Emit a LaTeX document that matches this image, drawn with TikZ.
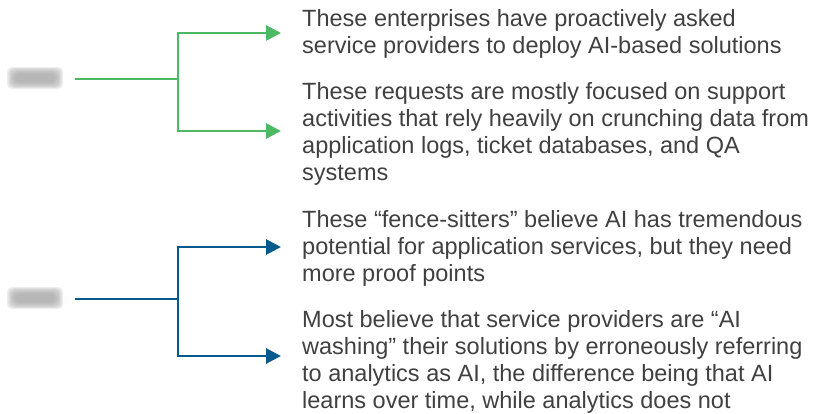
\documentclass[tikz,border=0pt]{standalone}
\usepackage{fontspec}
\setmainfont{Liberation Sans}
\usetikzlibrary{arrows.meta,calc}
\definecolor{forkgreen}{HTML}{4DB963}
\definecolor{forkblue}{HTML}{055A8C}
\definecolor{bodytext}{HTML}{404040}
\definecolor{blobgray}{HTML}{A4A4A4}
\tikzset{
  fork/.style={line width=2.8pt, line join=miter},
  tipped/.style={fork, -{Triangle[length=15pt,width=15pt]}},
  note/.style={anchor=north west, inner sep=0pt, align=left, text=bodytext,
    font=\fontsize{23.5}{27}\selectfont},
  blob/.style={minimum width=48pt, minimum height=16pt, inner sep=0pt}
}
\begin{document}
\begin{tikzpicture}[x=1pt,y=-1pt]
  \useasboundingbox (0,0) rectangle (821,413);

  % soft grey placeholders for the two group labels
  \node[blob] (glab) at (35,78) {};
  \node[blob] (blab) at (35,298) {};
  \foreach \n in {glab,blab}{
    \foreach \i in {0,...,6}{
      \fill[blobgray, opacity=0.2, rounded corners=5pt]
        ($(\n.center)+(-28+\i*1.3,-11+\i*1.1)$) rectangle
        ($(\n.center)+(28-\i*1.3,11-\i*1.1)$);
    }
  }

  % stems and junctions
  \coordinate (gstem) at (75,79);
  \coordinate (gj) at (178,79);
  \coordinate (bstem) at (75,299);
  \coordinate (bj) at (178,299);

  % arrow targets in front of each note
  \coordinate (g1) at (281,33);
  \coordinate (g2) at (281,131);
  \coordinate (b1) at (281,247);
  \coordinate (b2) at (281,356);

  % notes
  \node[note] (t1) at (302,9) {These enterprises have proactively asked\\service providers to deploy AI-based solutions};
  \node[note] (t2) at (302,82) {These requests are mostly focused on support\\activities that rely heavily on crunching data from\\application logs, ticket databases, and QA\\systems};
  \node[note] (t3) at (302,210) {These “fence-sitters” believe AI has tremendous\\potential for application services, but they need\\more proof points};
  \node[note] (t4) at (302,310) {Most believe that service providers are “AI\\washing” their solutions by erroneously referring\\to analytics as AI, the difference being that AI\\learns over time, while analytics does not};

  % green fork
  \draw[fork, forkgreen] (gstem) -- (gj);
  \draw[tipped, forkgreen] (gj) |- (g1);
  \draw[tipped, forkgreen] (gj) |- (g2);

  % blue fork
  \draw[fork, forkblue] (bstem) -- (bj);
  \draw[tipped, forkblue] (bj) |- (b1);
  \draw[tipped, forkblue] (bj) |- (b2);
\end{tikzpicture}
\end{document}
